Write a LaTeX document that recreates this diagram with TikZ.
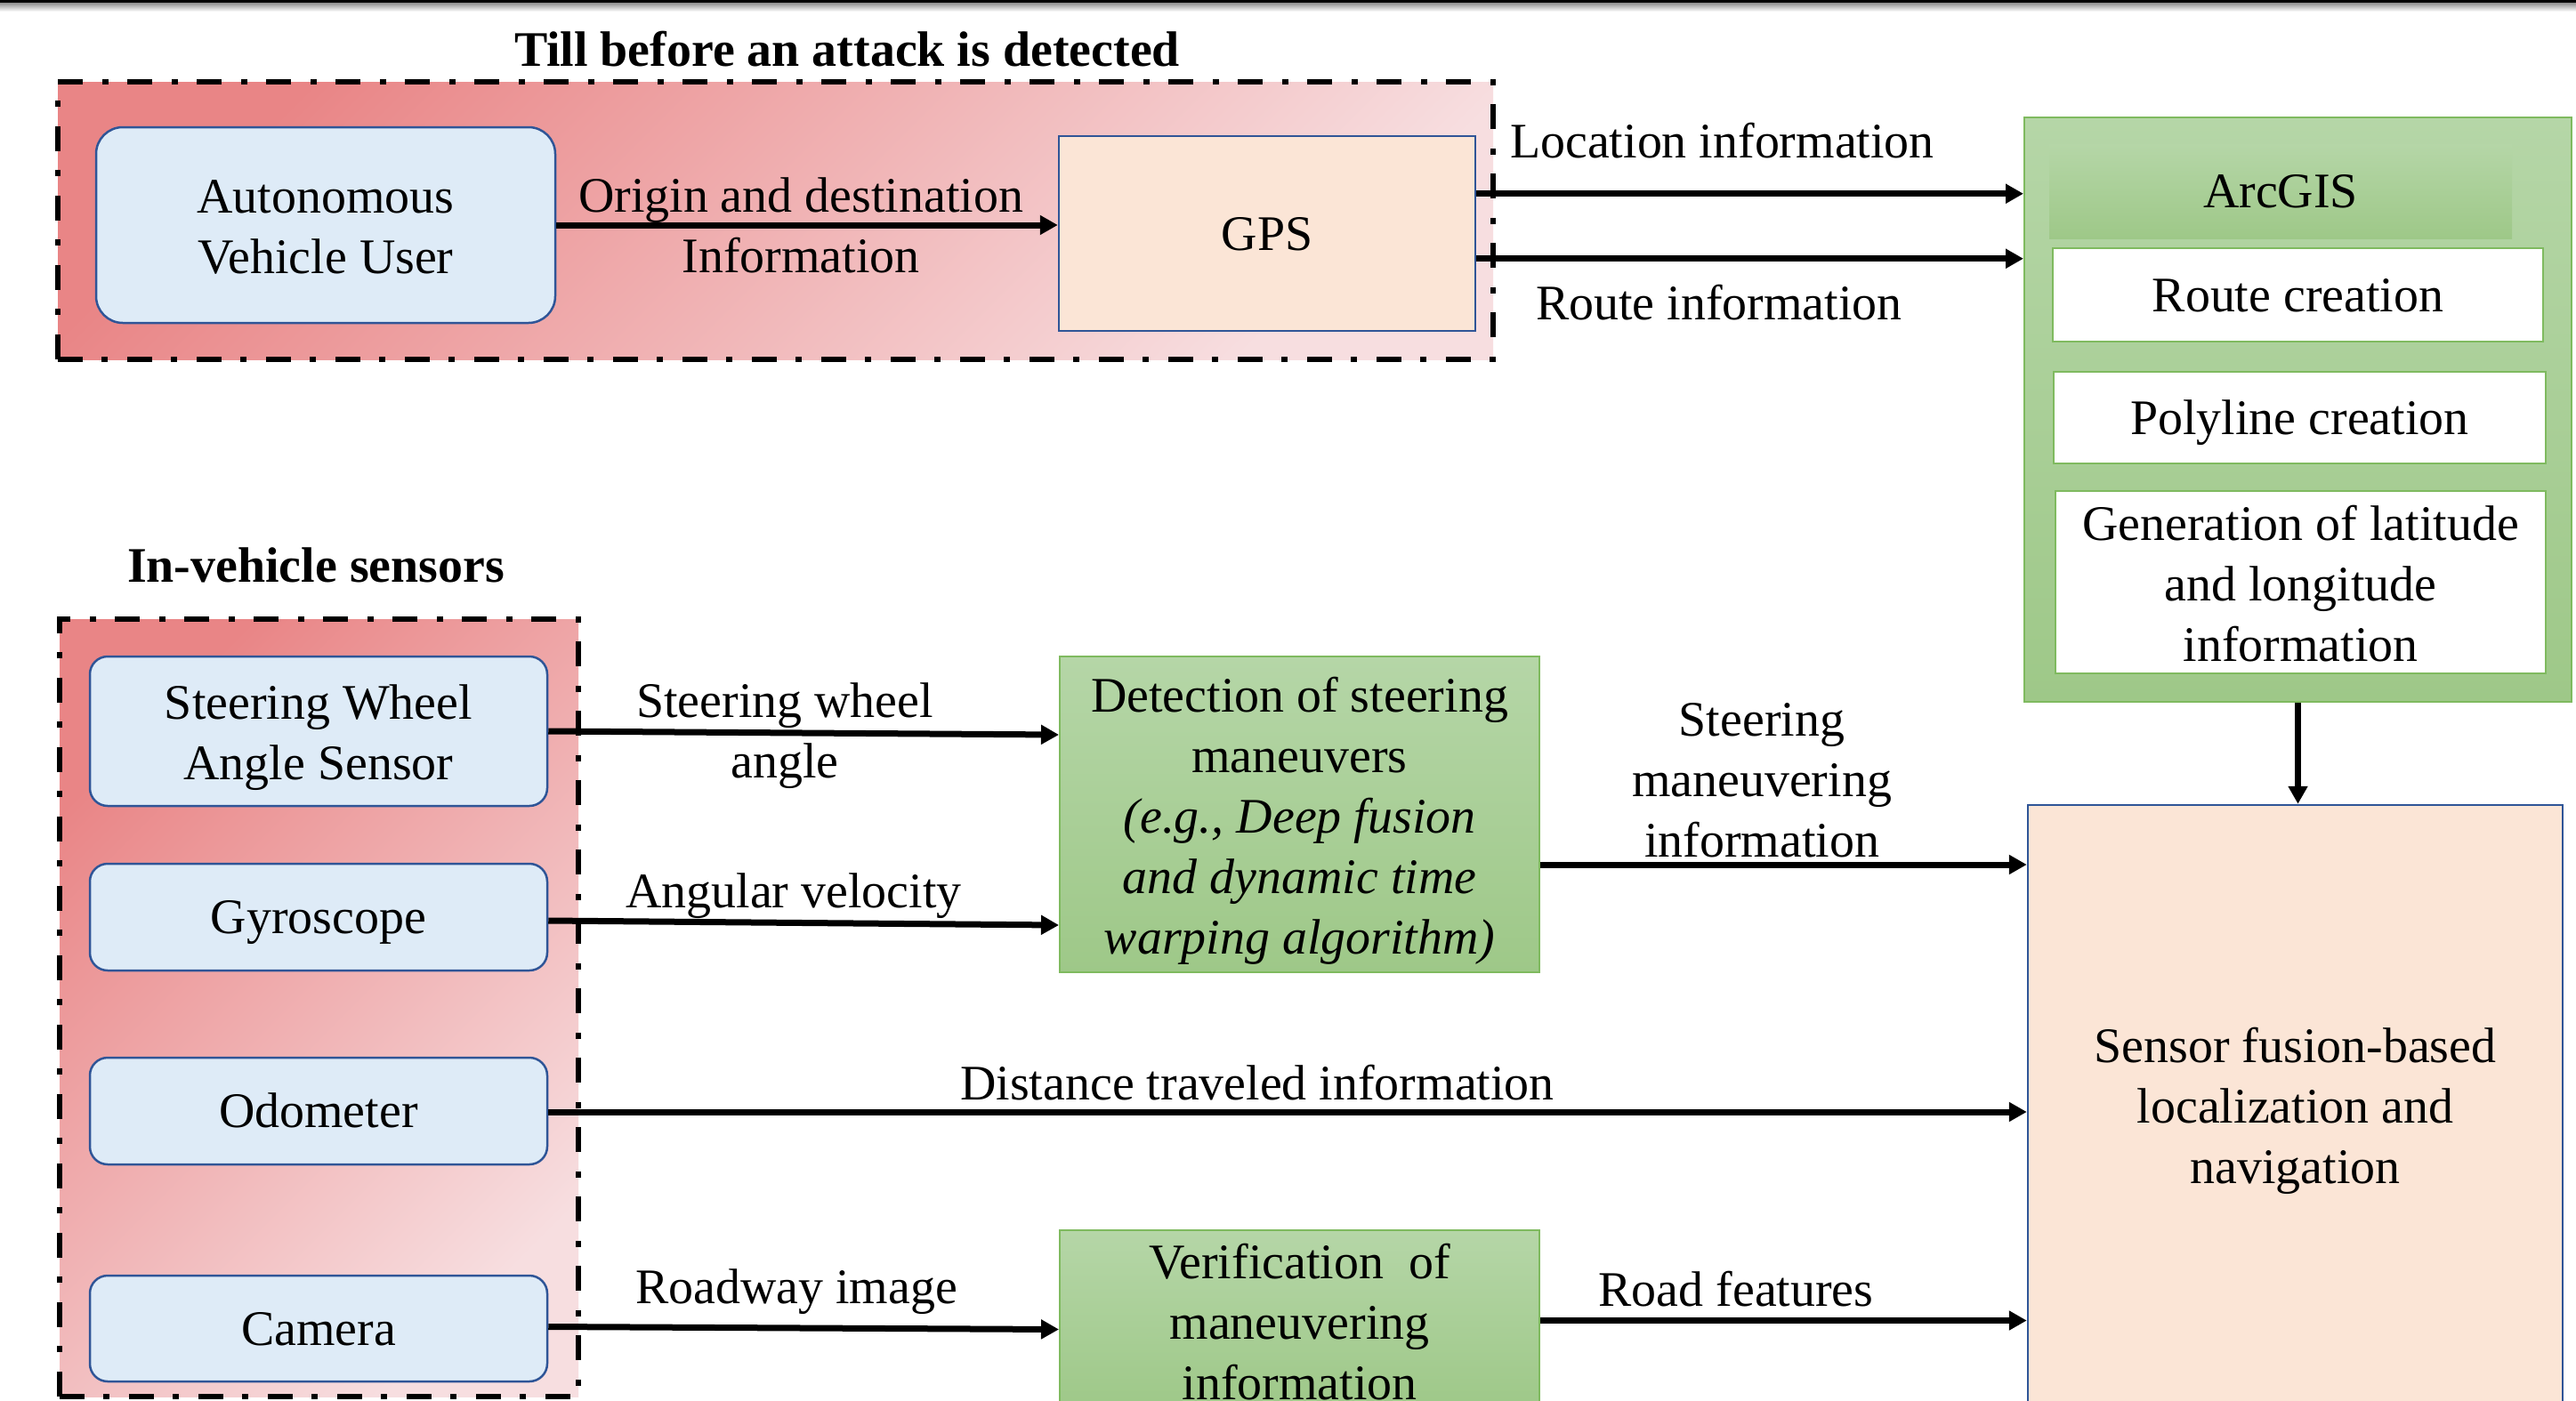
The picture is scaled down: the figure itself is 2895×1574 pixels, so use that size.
\documentclass[tikz,border=0pt]{standalone}
\usepackage{fontspec}
\setmainfont{Liberation Serif}
\usetikzlibrary{arrows.meta,calc}
\definecolor{pinkA}{HTML}{E98586}
\definecolor{pinkB}{HTML}{F7DEE0}
\definecolor{blueF}{HTML}{DEEBF7}
\definecolor{blueB}{HTML}{2F5597}
\definecolor{peach}{HTML}{FBE5D6}
\definecolor{greenT}{HTML}{B5D6A7}
\definecolor{greenB}{HTML}{9EC888}
\definecolor{greenD}{HTML}{7FBA5F}
\newcommand\fs{\fontsize{55.9pt}{68pt}\selectfont}
\newcommand\st{\rule[-12.1pt]{0pt}{61.9pt}}
\newcommand\fst{\rule{0pt}{54pt}}
\begin{document}
\begin{tikzpicture}[x=1pt,y=-1pt,
  txt/.style={font=\fs, inner sep=0pt, align=center, execute at begin node=\st, execute at end node=\st},
  ttl/.style={txt, font=\fs\bfseries},
  dbox/.style={draw=black, line width=6pt, dash pattern=on 28pt off 21pt on 7pt off 22pt, top color=pinkA, bottom color=pinkB, shading angle=45, inner sep=0pt},
  bluebox/.style={txt, draw=blueB, line width=2.5pt, fill=blueF},
  sensor/.style={bluebox, rounded corners=20pt, minimum width=514pt},
  peachbox/.style={txt, draw=blueB, line width=2.5pt, fill=peach},
  greenbox/.style={txt, draw=greenD, line width=2pt, top color=greenT, bottom color=greenB},
  band/.style={txt, top color=greenT, bottom color=greenB},
  whitebox/.style={txt, draw=greenD, line width=2pt, fill=white},
  arr/.style={line width=7pt, -{Triangle[length=20pt,width=21pt]}}
]
\clip (0,0) rectangle (2895,1574);
\fill[white] (0,0) rectangle (2895,1574);
\fill[black] (0,0) rectangle (2895,3);
\shade[top color=black!45, bottom color=white] (0,3) rectangle (2895,13);

% containers
\node[dbox, minimum width=1613pt, minimum height=312pt] (tbox) at (871.5,248) {};
\node[dbox, minimum width=583pt, minimum height=874pt] (sbox) at (358.5,1133) {};
\node[ttl] (t1) at (952,56) {Till before an attack is detected};
\node[ttl] (t2) at (355,636) {In-vehicle sensors};

% top row
\node[bluebox, rounded corners=30pt, minimum width=516pt, minimum height=220pt] (avu) at (366,253) {\fst Autonomous\\Vehicle User};
\node[peachbox, minimum width=468pt, minimum height=219pt] (gps) at (1424,262.5) {GPS};

% ArcGIS
\node[greenbox, minimum width=615pt, minimum height=657pt] (arc) at (2582.5,460.5) {};
\node[band, minimum width=520pt, minimum height=106pt] (arch) at (2563,215) {ArcGIS};
\node[whitebox, minimum width=551pt, minimum height=105pt] (rc) at (2582.5,331.5) {Route creation};
\node[whitebox, minimum width=553pt, minimum height=103pt] (pc) at (2584.5,469.5) {Polyline creation};
\node[whitebox, minimum width=551pt, minimum height=205pt] (gen) at (2585.5,654.5) {\fst Generation of latitude\\and longitude\\information};

% fusion
\node[peachbox, minimum width=601pt, minimum height=674pt] (sf) at (2579.5,1242) {\fst Sensor fusion-based\\localization and\\navigation};

% processing
\node[greenbox, minimum width=539pt, minimum height=355pt] (det) at (1460.5,915.5) {\fst Detection of steering\\maneuvers\\\textit{(e.g., Deep fusion}\\\textit{and dynamic time}\\\textit{warping algorithm)}};
\node[greenbox, minimum width=539pt, minimum height=191pt] (ver) at (1460.5,1484.5) {\fst Verification~~of\\maneuvering\\information};

% sensors
\node[sensor, minimum height=168pt] (swa) at (358,822) {\fst Steering Wheel\\Angle Sensor};
\node[sensor, minimum height=120pt] (gyr) at (358,1031) {Gyroscope};
\node[sensor, minimum height=120pt] (odo) at (358,1249) {Odometer};
\node[sensor, minimum height=119pt] (cam) at (358,1493.5) {Camera};

% arrows
\draw[arr] (avu.east) -- (avu.east -| gps.west);
\coordinate (l1) at ($(gps.north east)+(0,66)$);
\coordinate (l2) at ($(gps.north east)+(0,139)$);
\draw[arr] (l1) -- (l1 -| arc.west);
\draw[arr] (l2) -- (l2 -| arc.west);
\draw[arr] (arc.south) -- (arc.south |- sf.north);
\draw[arr] (swa.east) -- ($(det.west |- swa.east)+(0,4)$);
\draw[arr] ($(gyr.east)+(0,4)$) -- ($(det.west |- gyr.east)+(0,9)$);
\draw[arr] ($(odo.east)+(0,1)$) -- ($(sf.west |- odo.east)+(0,1)$);
\draw[arr] ($(cam.east)+(0,-2)$) -- ($(ver.west |- cam.east)+(0,1)$);
\coordinate (d1) at ($(det.east)+(0,56.5)$);
\draw[arr] (d1) -- (d1 -| sf.west);
\draw[arr] (ver.east) -- (ver.east -| sf.west);

% labels
\node[txt] (lorig) at (900,251.6) {\fst Origin and destination\\Information};
\node[txt, anchor=west] (lloc) at (1697,159) {Location information};
\node[txt, anchor=west] (lroute) at (1726,341) {Route information};
\node[txt] (lswa) at (882,820) {\fst Steering wheel\\angle};
\node[txt] (lgyr) at (892,1002) {Angular velocity};
\node[txt] (lodo) at (1413,1218) {Distance traveled information};
\node[txt] (lcam) at (895,1447) {Roadway image};
\node[txt] (ldet) at (1980,875) {\fst Steering\\maneuvering\\information};
\node[txt] (lver) at (1951,1450) {Road features};
\end{tikzpicture}
\end{document}
